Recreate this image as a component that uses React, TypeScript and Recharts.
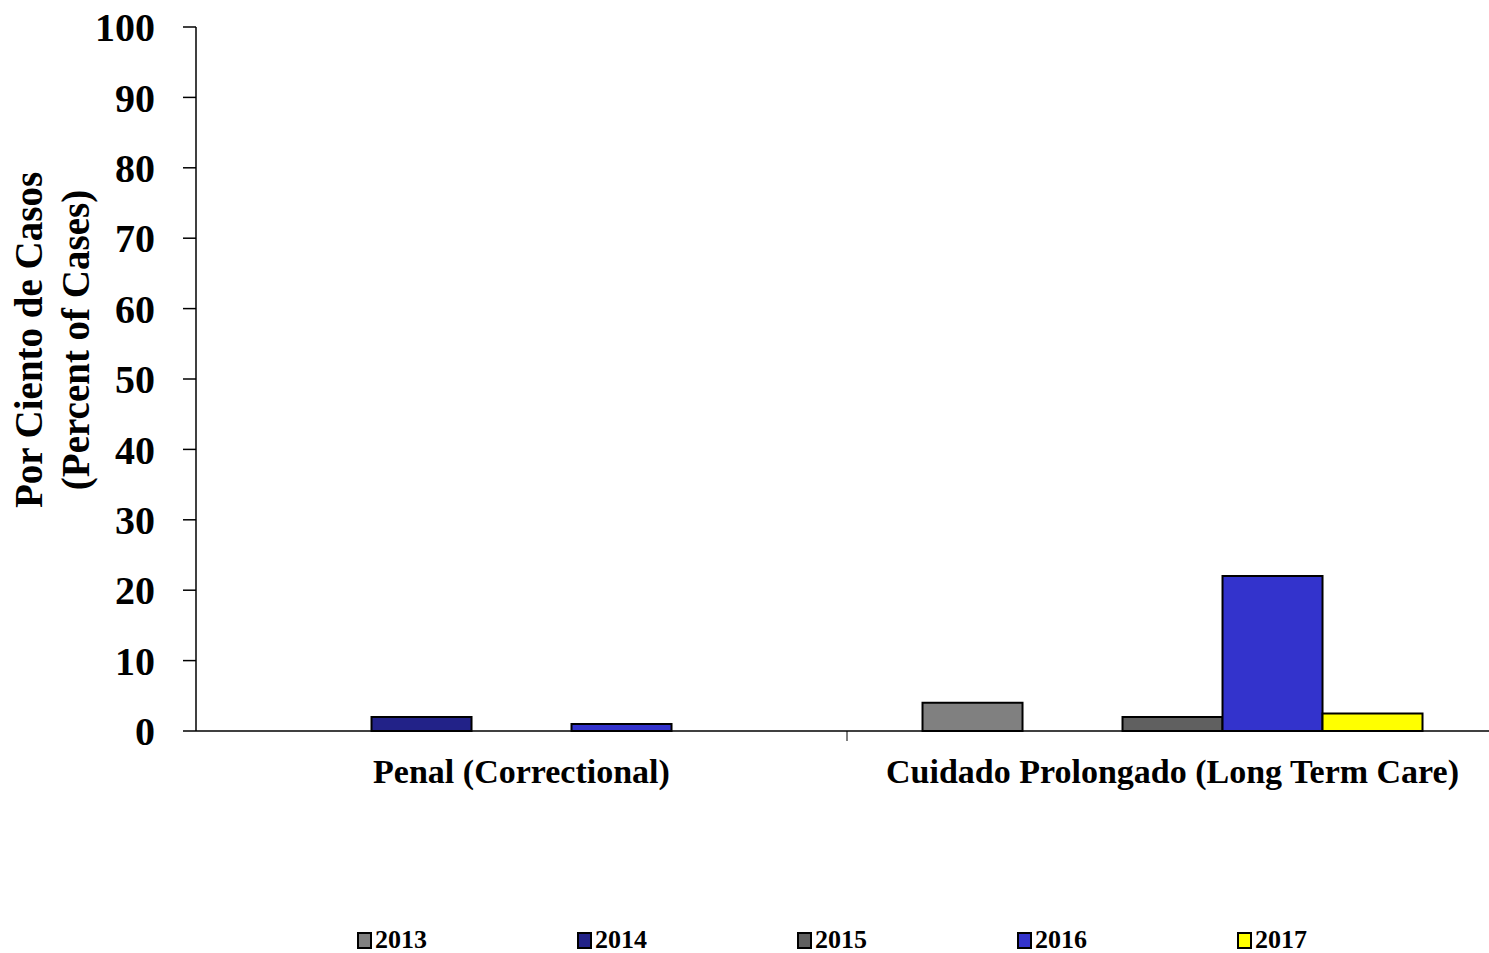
import React from "react";
import { BarChart, Bar, XAxis, YAxis, Legend, Label } from "recharts";

const categories = ["Penal (Correctional)", "Cuidado Prolongado (Long Term Care)"];
const years = ["2013", "2014", "2015", "2016", "2017"];
const yearColors = ["#808080", "#222288", "#606060", "#3333CC", "#FFFF00"];

const values2013 = [0, 4];
const values2014 = [2, 0];
const values2015 = [0, 2];
const values2016 = [1, 22];
const values2017 = [0, 2.5];

const yTicks = [0, 10, 20, 30, 40, 50, 60, 70, 80, 90, 100];
const yLabelLines = ["Por Ciento de Casos", "(Percent of Cases)"];

const seriesValues = [values2013, values2014, values2015, values2016, values2017];

const data = categories.map((name, i) => {
  const row: Record<string, string | number> = { name };
  years.forEach((y, s) => {
    row[y] = seriesValues[s][i];
  });
  return row;
});

const FONT = '"Liberation Serif", "Times New Roman", serif';

function CategoryTick(props: any) {
  const { x, y, payload } = props;
  const half = payload.offset ?? 0;
  return (
    <g>
      <line x1={x + half} x2={x + half} y1={y} y2={y + 10} stroke="#000" strokeWidth={1} />
      <text
        x={x}
        y={y + 52}
        textAnchor="middle"
        fontFamily={FONT}
        fontWeight="bold"
        fontSize={34}
        fill="#000"
      >
        {payload.value}
      </text>
    </g>
  );
}

function YTitle(props: any) {
  const vb = props.viewBox || { x: 0, y: 0, width: 0, height: 0 };
  const cy = vb.y + vb.height / 2 - 39;
  return (
    <g>
      {yLabelLines.map((line, i) => {
        const cx = 28 + i * 47;
        return (
          <text
            key={line}
            x={cx}
            y={cy}
            transform={`rotate(-90 ${cx} ${cy})`}
            textAnchor="middle"
            dominantBaseline="central"
            fontFamily={FONT}
            fontWeight="bold"
            fontSize={39}
            fill="#000"
          >
            {line}
          </text>
        );
      })}
    </g>
  );
}

function YearLegend(props: any) {
  const payload = props.payload || [];
  return (
    <div style={{ display: "flex", height: 26, alignItems: "center" }}>
      {payload.map((p: any) => (
        <div key={p.value} style={{ width: 220, display: "flex", alignItems: "center" }}>
          <span
            style={{
              display: "inline-block",
              width: 11,
              height: 13,
              background: p.color,
              border: "2px solid #000",
              marginRight: 3,
            }}
          />
          <span style={{ fontFamily: FONT, fontWeight: "bold", fontSize: 26, color: "#000" }}>
            {p.value}
          </span>
        </div>
      ))}
    </div>
  );
}

export default function App() {
  return (
    <div style={{ position: "absolute", left: 0, top: 0, width: 1489, height: 953, overflow: "hidden", background: "#fff" }}>
      <BarChart
        width={1500}
        height={953}
        data={data}
        margin={{ top: 27, right: 2, bottom: 0, left: 0 }}
        barCategoryGap="11.6%"
        barGap={0}
      >
        <XAxis
          dataKey="name"
          height={196}
          tickSize={0}
          tickMargin={0}
          tickLine={false}
          tick={<CategoryTick />}
          axisLine={{ stroke: "#000", strokeWidth: 1.5 }}
          interval={0}
        />
        <YAxis
          width={196}
          domain={[0, 100]}
          ticks={yTicks}
          interval={0}
          tickSize={13}
          tickMargin={28}
          axisLine={{ stroke: "#000", strokeWidth: 1.5 }}
          tickLine={{ stroke: "#000", strokeWidth: 1.5 }}
          tick={{ fontFamily: FONT, fontWeight: "bold", fontSize: 40, fill: "#000" }}
        >
          <Label content={<YTitle />} />
        </YAxis>
        <Legend
          verticalAlign="bottom"
          content={<YearLegend />}
          wrapperStyle={{ left: 357, width: 1130 }}
        />
        {years.map((y, s) => (
          <Bar
            key={y}
            dataKey={y}
            name={y}
            fill={yearColors[s]}
            stroke="#000"
            strokeWidth={2}
            isAnimationActive={false}
          />
        ))}
      </BarChart>
    </div>
  );
}
